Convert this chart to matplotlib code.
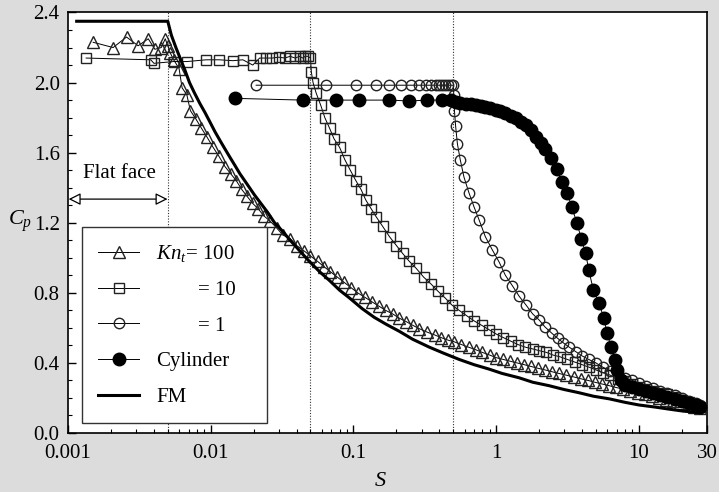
import matplotlib
matplotlib.use('Agg')
import matplotlib.pyplot as plt
from matplotlib.ticker import FixedLocator, MultipleLocator, LogLocator, NullFormatter

plt.rcParams['font.family'] = ['Liberation Serif', 'DejaVu Serif']
plt.rcParams['mathtext.fontset'] = 'custom'
plt.rcParams['mathtext.rm'] = 'Liberation Serif'
plt.rcParams['mathtext.it'] = 'Liberation Serif:italic'

# free molecular solution
fm_s = [0.00115, 0.005, 0.0053, 0.0057, 0.0061, 0.0066, 0.0071, 0.0077, 0.0084, 0.0091, 0.0098,
        0.0107, 0.0116, 0.0125, 0.0136, 0.0147, 0.016, 0.0173, 0.0187, 0.0202, 0.022, 0.025,
        0.028, 0.032, 0.036, 0.042, 0.049, 0.058, 0.068, 0.08, 0.094, 0.115, 0.14, 0.17, 0.21,
        0.26, 0.34, 0.43, 0.55, 0.7, 0.89, 1.1, 1.45, 1.8, 2.35, 3.0, 3.8, 4.8, 6.2, 8, 10, 13,
        16, 20, 27.5]
fm_cp = [2.35, 2.35, 2.27, 2.20, 2.14, 2.07, 2.00, 1.94, 1.88, 1.83, 1.78,
         1.72, 1.67, 1.625, 1.575, 1.53, 1.48, 1.44, 1.40, 1.36, 1.32, 1.26,
         1.20, 1.15, 1.10, 1.04, 0.98, 0.92, 0.87, 0.815, 0.77, 0.71, 0.66, 0.62, 0.58,
         0.535, 0.49, 0.455, 0.42, 0.39, 0.365, 0.34, 0.315, 0.29, 0.27, 0.248, 0.23, 0.21, 0.195, 0.175, 0.16, 0.148,
         0.137, 0.126, 0.115]

# Kn_t = 100
kn100_s = [0.0015, 0.00207, 0.00257, 0.0031, 0.00365, 0.00406, 0.0045, 0.0048, 0.0050,
           0.0052, 0.0055, 0.0060, 0.0063, 0.0068, 0.0072, 0.0079, 0.0086, 0.0094, 0.0104,
           0.0114, 0.0126, 0.0138, 0.0151, 0.0165, 0.018, 0.0197, 0.0215, 0.0235, 0.026,
           0.029, 0.032, 0.036, 0.040, 0.045, 0.050, 0.056, 0.062, 0.069, 0.077, 0.086,
           0.096, 0.107, 0.12, 0.134, 0.15, 0.168, 0.188, 0.21, 0.235, 0.26, 0.29, 0.33,
           0.37, 0.41, 0.46, 0.51, 0.57, 0.64, 0.72, 0.8, 0.9, 1.0, 1.12, 1.25, 1.4, 1.57,
           1.75, 1.95, 2.2, 2.45, 2.75, 3.1, 3.5, 3.9, 4.4, 4.9, 5.5, 6.2, 6.9, 7.8, 8.7,
           9.8, 11, 12.3, 13.8, 15.5, 17.4, 19.5, 22, 24.5, 27]
kn100_cp = [2.23, 2.20, 2.26, 2.21, 2.25, 2.19, 2.20, 2.25, 2.21,
            2.17, 2.13, 2.08, 1.97, 1.93, 1.84, 1.79, 1.74, 1.69, 1.63,
            1.58, 1.52, 1.48, 1.44, 1.39, 1.35, 1.31, 1.28, 1.24, 1.21,
            1.17, 1.13, 1.11, 1.07, 1.04, 1.01, 0.98, 0.95, 0.92, 0.89, 0.86,
            0.83, 0.80, 0.775, 0.75, 0.725, 0.70, 0.68, 0.655, 0.635, 0.615, 0.595, 0.575,
            0.56, 0.545, 0.53, 0.52, 0.505, 0.49, 0.475, 0.46, 0.445, 0.43, 0.42, 0.41, 0.40, 0.39,
            0.38, 0.37, 0.36, 0.35, 0.34, 0.33, 0.32, 0.31, 0.30, 0.29, 0.28, 0.27, 0.26, 0.25, 0.24,
            0.23, 0.22, 0.21, 0.20, 0.19, 0.18, 0.17, 0.16, 0.15, 0.14]

# Kn_t = 10
kn10_s = [0.00134, 0.0038, 0.0040, 0.0055, 0.0068, 0.0093, 0.0115, 0.0143, 0.0168, 0.0197,
          0.022, 0.0245, 0.027, 0.030, 0.033, 0.036, 0.039, 0.042, 0.044, 0.046, 0.048, 0.050,
          0.0507, 0.0521, 0.0548, 0.059, 0.063, 0.068, 0.073, 0.080, 0.087, 0.095, 0.104,
          0.113, 0.122, 0.133, 0.144, 0.16, 0.179, 0.20, 0.221, 0.246, 0.275, 0.31, 0.35,
          0.39, 0.44, 0.49, 0.55, 0.62, 0.70, 0.79, 0.89, 1.0, 1.12, 1.26, 1.42, 1.6, 1.8,
          2.0, 2.25, 2.5, 2.8, 3.15, 3.55, 4.0, 4.5, 5.0, 5.6, 6.3, 7.1, 8.0, 9.0, 10,
          11.2, 12.6, 14.1, 15.8, 17.8, 20, 22.4, 25, 27]
kn10_cp = [2.14, 2.13, 2.11, 2.12, 2.12, 2.13, 2.13, 2.125, 2.13, 2.10,
           2.14, 2.14, 2.14, 2.145, 2.14, 2.15, 2.14, 2.15, 2.14, 2.15, 2.15, 2.14,
           2.06, 2.00, 1.94, 1.87, 1.80, 1.74, 1.68, 1.63, 1.56, 1.50, 1.44,
           1.39, 1.33, 1.28, 1.235, 1.18, 1.12, 1.07, 1.025, 0.98, 0.94, 0.89, 0.85,
           0.81, 0.77, 0.73, 0.70, 0.67, 0.64, 0.615, 0.59, 0.565, 0.545, 0.525, 0.505, 0.49, 0.48,
           0.47, 0.46, 0.445, 0.435, 0.42, 0.405, 0.39, 0.375, 0.36, 0.345, 0.33, 0.31, 0.295, 0.28, 0.265,
           0.25, 0.24, 0.23, 0.22, 0.205, 0.19, 0.175, 0.16, 0.15]

# Kn_t = 1
kn1_s = [0.0208, 0.0642, 0.104, 0.144, 0.178, 0.214, 0.254, 0.29, 0.32, 0.35, 0.38, 0.40,
         0.42, 0.44, 0.46, 0.48, 0.50, 0.505, 0.51, 0.52, 0.535, 0.56, 0.595, 0.645, 0.70,
         0.76, 0.84, 0.94, 1.05, 1.16, 1.3, 1.45, 1.62, 1.8, 2.0, 2.2, 2.45, 2.7, 2.95,
         3.25, 3.6, 4.0, 4.45, 5.0, 5.6, 6.3, 7.1, 8.0, 9.0, 10, 11.2, 12.6, 14.1, 15.8,
         17.8, 20, 22.4, 25, 27]
kn1_cp = [1.985, 1.985, 1.985, 1.985, 1.985, 1.985, 1.985, 1.985, 1.985, 1.985, 1.985, 1.985,
          1.985, 1.985, 1.985, 1.985, 1.985, 1.93, 1.84, 1.75, 1.65, 1.56, 1.46, 1.37, 1.29,
          1.215, 1.12, 1.045, 0.975, 0.90, 0.84, 0.78, 0.73, 0.68, 0.645, 0.605, 0.57, 0.54, 0.515,
          0.49, 0.465, 0.44, 0.42, 0.40, 0.375, 0.355, 0.335, 0.315, 0.30, 0.285, 0.27, 0.255, 0.24, 0.23,
          0.215, 0.20, 0.185, 0.17, 0.16]

# cylinder
cyl_s = [0.0147, 0.0442, 0.0754, 0.11, 0.178, 0.246, 0.33, 0.42, 0.48, 0.52, 0.56, 0.614,
         0.67, 0.72, 0.78, 0.84, 0.91, 0.99, 1.07, 1.16, 1.26, 1.37, 1.49, 1.61, 1.75, 1.90,
         2.05, 2.2, 2.41, 2.66, 2.88, 3.16, 3.38, 3.68, 3.94, 4.24, 4.45, 4.8, 5.28, 5.67,
         6.0, 6.37, 6.8, 7.0, 7.5, 8.0, 9, 10, 11.2, 12.6, 14.1, 15.8, 17.8, 20, 22.4, 25, 27]
cyl_cp = [1.91, 1.90, 1.90, 1.90, 1.90, 1.895, 1.90, 1.90, 1.90, 1.89, 1.885, 1.88,
          1.877, 1.872, 1.867, 1.862, 1.853, 1.843, 1.835, 1.825, 1.81, 1.796, 1.777, 1.758, 1.73, 1.69,
          1.655, 1.62, 1.568, 1.505, 1.434, 1.368, 1.29, 1.20, 1.11, 1.026, 0.93, 0.816, 0.74, 0.654,
          0.569, 0.493, 0.417, 0.36, 0.30, 0.275, 0.262, 0.25, 0.24, 0.228, 0.217, 0.205, 0.195, 0.185, 0.172, 0.16, 0.15]

x_ticks = [0.001, 0.01, 0.1, 1, 10, 30]
x_labels = ['0.001', '0.01', '0.1', '1', '10', '30']
marks = [0.005, 0.05, 0.5]

fig = plt.figure(figsize=(7.19, 4.92), dpi=100, facecolor='#dcdcdc')
ax = fig.add_axes([0.0946, 0.1199, 0.8887, 0.8547])
ax.set_facecolor('white')

for m in marks:
    ax.axvline(m, color='#333333', lw=0.8, ls=(0, (1, 1.5)), zorder=1)

ax.plot(kn100_s, kn100_cp, color='black', lw=0.7, marker='^', ms=9, mfc='none', mec='#222222', mew=1.0,
        label=r'$Kn_{t}$= 100', zorder=3)
ax.plot(kn10_s, kn10_cp, color='black', lw=0.7, marker='s', ms=7.5, mfc='none', mec='#222222', mew=1.0,
        label='        = 10', zorder=3)
ax.plot(kn1_s, kn1_cp, color='black', lw=0.7, marker='o', ms=7.5, mfc='none', mec='#222222', mew=1.0,
        label='        = 1', zorder=3)
ax.plot(cyl_s, cyl_cp, color='black', lw=0.7, marker='o', ms=9, mfc='black', mec='black',
        label='Cylinder', zorder=3)
ax.plot(fm_s, fm_cp, color='black', lw=2.2, label='FM', zorder=4)

ax.set_xscale('log')
ax.set_xlim(0.001, 30)
ax.set_ylim(0, 2.4)
ax.xaxis.set_major_locator(FixedLocator(x_ticks))
ax.set_xticklabels(x_labels)
ax.xaxis.set_minor_locator(LogLocator(base=10, subs=range(2, 10), numticks=20))
ax.xaxis.set_minor_formatter(NullFormatter())
ax.yaxis.set_major_locator(MultipleLocator(0.4))
ax.yaxis.set_minor_locator(MultipleLocator(0.1))
ax.set_yticklabels(['%.1f' % v for v in ax.get_yticks()])
ax.tick_params(which='both', direction='in', top=False, right=False, labelsize=15, colors='black')
ax.tick_params(which='major', length=6, width=1)
ax.tick_params(which='minor', length=3, width=0.8)
ax.tick_params(axis='x', pad=8)
ax.tick_params(axis='y', pad=6)
for sp in ax.spines.values():
    sp.set_linewidth(1.2)

# flat face marker
ax.annotate('', xy=(0.00101, 1.335), xytext=(0.00498, 1.335),
            arrowprops=dict(arrowstyle='<|-|>', fc='white', ec='black', lw=0.9,
                            mutation_scale=18, shrinkA=0, shrinkB=0))
ax.text(0.00127, 1.48, 'Flat face', fontsize=15, ha='left', va='center')

leg = ax.legend(loc='lower left', bbox_to_anchor=(0.022, 0.024), borderaxespad=0, fontsize=15,
                handlelength=2.0, handletextpad=0.8, borderpad=0.75, labelspacing=0.78,
                fancybox=False, framealpha=1, edgecolor='#333333')
leg.get_frame().set_linewidth(1.0)
# widen the box a little, as in the source figure
leg.get_texts()[0].set_text(r'$Kn_{t}$= 100    ')

fig.text(8 / 719, (492 - 221) / 492, r'$C_p$', fontsize=16, ha='left', va='center')
fig.text(380 / 719, (492 - 481) / 492, 'S', fontsize=16, style='italic', ha='center', va='center')

fig.savefig('out.png', dpi=100, facecolor=fig.get_facecolor())
plt.close()
